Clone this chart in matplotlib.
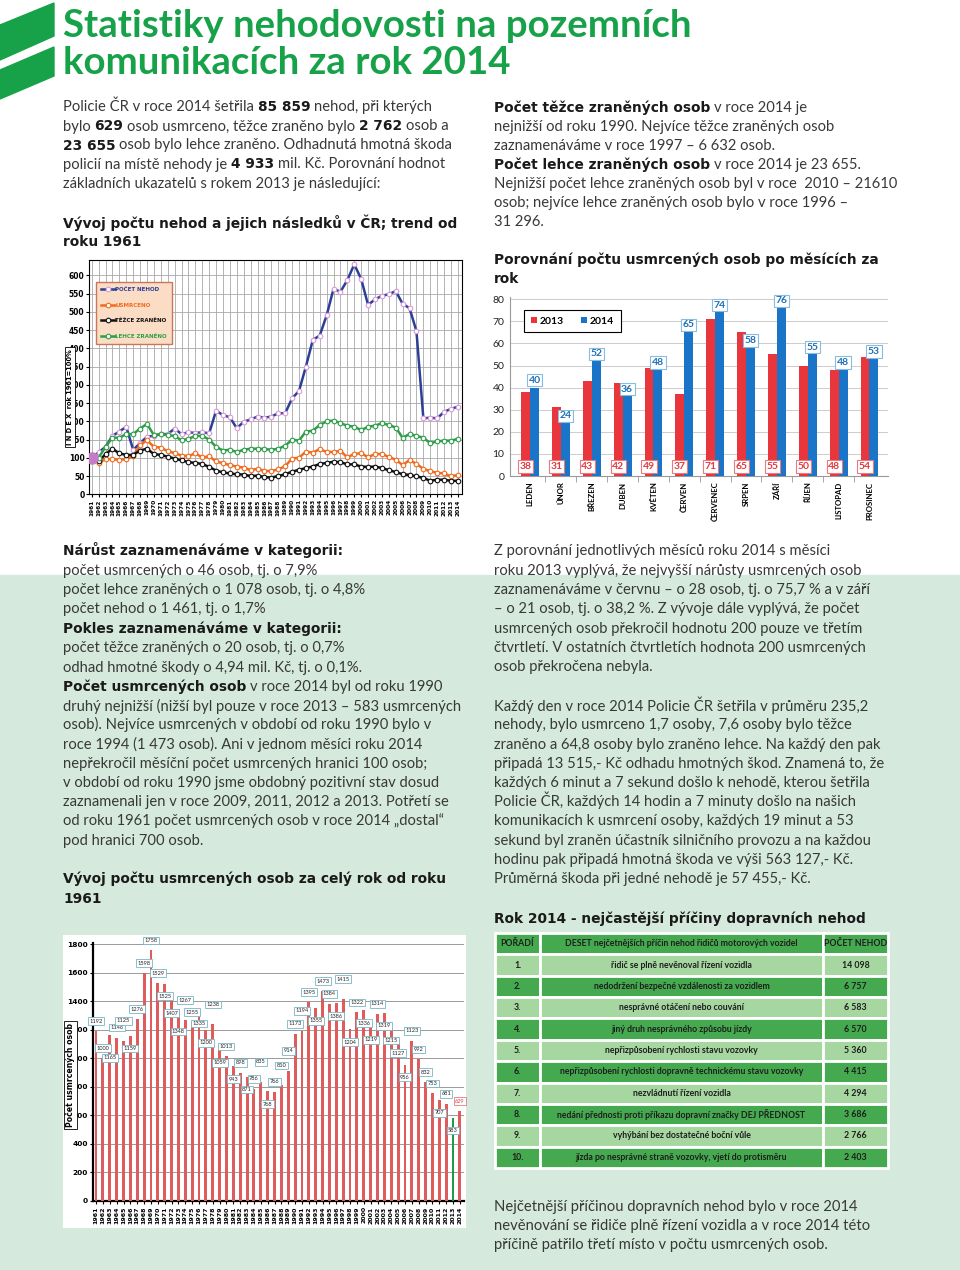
import matplotlib.pyplot as plt
import numpy as np
from matplotlib.patches import Polygon, Rectangle

plt.rcParams['font.family'] = ['Lato', 'DejaVu Sans']

# ---------------- data ----------------
years = list(range(1961, 2015))

idx_nehod = [100, 115, 130, 160, 172, 185, 122, 140, 158, 160, 165, 165, 180, 165,
             170, 168, 170, 167, 229, 217, 211, 181, 199, 205, 213, 210, 213, 222,
             222, 263, 283, 350, 423, 435, 490, 563, 555, 587, 630, 590, 519, 534,
             544, 548, 557, 522, 510, 447, 208, 210, 208, 226, 234, 240]
idx_usmrceno = [100, 85, 97, 96, 95, 96, 105, 135, 148, 130, 128, 118, 113, 106,
                105, 112, 101, 104, 90, 85, 80, 76, 73, 66, 70, 64, 64, 68, 77, 98,
                100, 117, 114, 124, 116, 116, 119, 101, 111, 112, 102, 110, 111, 102,
                95, 80, 94, 83, 70, 63, 59, 57, 49, 53]
idx_tezce = [100, 90, 110, 125, 112, 108, 108, 120, 125, 110, 108, 103, 98, 93, 88,
             86, 83, 75, 65, 60, 57, 55, 54, 50, 51, 47, 46, 50, 55, 62, 67, 72, 76,
             83, 86, 89, 88, 82, 82, 76, 75, 76, 72, 66, 61, 55, 53, 49, 45, 37, 40,
             40, 37, 37]
idx_lehce = [100, 100, 130, 155, 155, 165, 165, 180, 193, 162, 165, 162, 160, 148,
             152, 160, 160, 150, 130, 120, 122, 116, 122, 125, 125, 124, 122, 125,
             133, 150, 147, 172, 174, 190, 200, 202, 195, 188, 185, 176, 185, 188,
             195, 190, 183, 155, 165, 160, 155, 140, 145, 147, 147, 152]

months = ['LEDEN', 'ÚNOR', 'BŘEZEN', 'DUBEN', 'KVĚTEN', 'ČERVEN', 'ČERVENEC',
          'SRPEN', 'ZÁŘÍ', 'ŘÍJEN', 'LISTOPAD', 'PROSINEC']
umrti_2013 = [38, 31, 43, 42, 49, 37, 71, 65, 55, 50, 48, 54]
umrti_2014 = [40, 24, 52, 36, 48, 65, 74, 58, 76, 55, 48, 53]

usmrceni = [1192, 1000, 1165, 1146, 1125, 1159, 1276, 1598, 1758, 1529, 1525, 1407,
            1348, 1267, 1255, 1335, 1200, 1238, 1059, 1013, 943, 898, 871, 786, 835,
            768, 766, 810, 914, 1173, 1194, 1395, 1355, 1473, 1384, 1386, 1415, 1204,
            1322, 1336, 1219, 1314, 1319, 1215, 1127, 956, 1123, 992, 832, 753, 707,
            681, 583, 629]

poradi = ['1.', '2.', '3.', '4.', '5.', '6.', '7.', '8.', '9.', '10.']
priciny = ['řidič se plně nevěnoval řízení vozidla',
           'nedodržení bezpečné vzdálenosti za vozidlem',
           'nesprávné otáčení nebo couvání',
           'jiný druh nesprávného způsobu jízdy',
           'nepřizpůsobení rychlosti stavu vozovky',
           'nepřizpůsobení rychlosti dopravně technickému stavu vozovky',
           'nezvládnutí řízení vozidla',
           'nedání přednosti proti příkazu dopravní značky DEJ PŘEDNOST',
           'vyhýbání bez dostatečné boční vůle',
           'jízda po nesprávné straně vozovky, vjetí do protisměru']
pocet_nehod = ['14 098', '6 757', '6 583', '6 570', '5 360', '4 415', '4 294',
               '3 686', '2 766', '2 403']

# ---------------- page ----------------
W, H = 960, 1270
GREEN = '#17a24a'
fig = plt.figure(figsize=(W / 100, H / 100), dpi=100)
page = fig.add_axes([0, 0, 1, 1])
page.set_xlim(0, W)
page.set_ylim(H, 0)
page.axis('off')
renderer = fig.canvas.get_renderer()


def px_axes(x0, y0, x1, y1):
    return fig.add_axes([x0 / W, 1 - y1 / H, (x1 - x0) / W, (y1 - y0) / H])


page.add_patch(Rectangle((0, 575), W, H - 575, color='#d5eadc', zorder=0))
page.add_patch(Polygon([(0, 25), (54, 3), (54, 36), (0, 60)], color=GREEN))
page.add_patch(Polygon([(0, 70), (54, 47), (54, 76), (0, 99)], color=GREEN))

page.text(63, 37, 'Statistiky nehodovosti na pozemních', fontsize=27.6,
          fontweight='bold', color=GREEN)
page.text(63, 74, 'komunikacích za rok 2014', fontsize=27.6,
          fontweight='bold', color=GREEN)

REG = dict(family=['Lato', 'DejaVu Sans'], fontsize=10.6, color='#383838')
BLD = dict(family=['DejaVu Sans'], fontsize=9.9, fontweight='bold', color='#1a1a1a')


def text_w(s, props):
    t = page.text(0, 0, s, **props)
    w = t.get_window_extent(renderer).width
    t.remove()
    return w


SP = {0: text_w('x x', REG) - text_w('xx', REG),
      1: text_w('x x', BLD) - text_w('xx', BLD)}


def line(x, y, runs):
    if isinstance(runs, str):
        runs = [(runs, 0)]
    for txt, b in runs:
        props = BLD if b else REG
        lead = len(txt) - len(txt.lstrip(' '))
        trail = len(txt) - len(txt.rstrip(' '))
        x += lead * SP[b]
        t = page.text(x, y + 4.5, txt.strip(' '), va='baseline', **props)
        x = t.get_window_extent(renderer).x1 + trail * SP[b]


def block(x, ys, rows):
    for y, r in zip(ys, rows):
        line(x, y, r)


block(63, [106.7, 126, 145, 164, 183.3], [
    [('Policie ČR v roce 2014 šetřila ', 0), ('85 859', 1), (' nehod, při kterých', 0)],
    [('bylo ', 0), ('629', 1), (' osob usmrceno, těžce zraněno bylo ', 0), ('2 762', 1), (' osob a', 0)],
    [('23 655', 1), (' osob bylo lehce zraněno. Odhadnutá hmotná škoda', 0)],
    [('policií na místě nehody je ', 0), ('4 933', 1), (' mil. Kč. Porovnání hodnot', 0)],
    'základních ukazatelů s rokem 2013 je následující:'])
block(63, [223.3, 241.7], [[('Vývoj počtu nehod a jejich následků v ČR; trend od', 1)],
                           [('roku 1961', 1)]])

block(494, [107.3, 126, 145, 164, 183.3, 202.7, 221], [
    [('Počet těžce zraněných osob', 1), (' v roce 2014 je', 0)],
    'nejnižší od roku 1990. Nejvíce těžce zraněných osob',
    'zaznamenáváme v roce 1997 – 6 632 osob.',
    [('Počet lehce zraněných osob', 1), (' v roce 2014 je 23 655.', 0)],
    'Nejnižší počet lehce zraněných osob byl v roce  2010 – 21610',
    'osob; nejvíce lehce zraněných osob bylo v roce 1996 –',
    '31 296.'])
block(494, [259.3, 278.3], [[('Porovnání počtu usmrcených osob po měsících za', 1)],
                            [('rok', 1)]])

block(63, [550, 570, 589.3, 608.3, 628.3, 647.7, 667.7, 686.7, 706, 725, 744.3,
           763.3, 782.7, 801.7, 821, 840], [
    [('Nárůst zaznamenáváme v kategorii:', 1)],
    'počet usmrcených o 46 osob, tj. o 7,9%',
    'počet lehce zraněných o 1 078 osob, tj. o 4,8%',
    'počet nehod o 1 461, tj. o 1,7%',
    [('Pokles zaznamenáváme v kategorii:', 1)],
    'počet těžce zraněných o 20 osob, tj. o 0,7%',
    'odhad hmotné škody o 4,94 mil. Kč, tj. o 0,1%.',
    [('Počet usmrcených osob', 1), (' v roce 2014 byl od roku 1990', 0)],
    'druhý nejnižší (nižší byl pouze v roce 2013 – 583 usmrcených',
    'osob). Nejvíce usmrcených v období od roku 1990 bylo v',
    'roce 1994 (1 473 osob). Ani v jednom měsíci roku 2014',
    'nepřekročil měsíční počet usmrcených hranici 100 osob;',
    'v období od roku 1990 jsme obdobný pozitivní stav dosud',
    'zaznamenali jen v roce 2009, 2011, 2012 a 2013. Potřetí se',
    'od roku 1961 počet usmrcených osob v roce 2014 „dostal“',
    'pod hranici 700 osob.'])
block(63, [878.3, 898.3], [[('Vývoj počtu usmrcených osob za celý rok od roku', 1)],
                           [('1961', 1)]])

block(494, [550, 570, 589.3, 608.3, 628.3, 647.7, 666.7], [
    'Z porovnání jednotlivých měsíců roku 2014 s měsíci',
    'roku 2013 vyplývá, že nejvyšší nárůsty usmrcených osob',
    'zaznamenáváme v červnu – o 28 osob, tj. o 75,7 % a v září',
    '– o 21 osob, tj. o 38,2 %. Z vývoje dále vyplývá, že počet',
    'usmrcených osob překročil hodnotu 200 pouze ve třetím',
    'čtvrtletí. V ostatních čtvrtletích hodnota 200 usmrcených',
    'osob překročena nebyla.'])
block(494, [706, 725, 744.3, 763.3, 782.7, 801.7, 821, 840, 859.3, 878.3], [
    'Každý den v roce 2014 Policie ČR šetřila v průměru 235,2',
    'nehody, bylo usmrceno 1,7 osoby, 7,6 osoby bylo těžce',
    'zraněno a 64,8 osoby bylo zraněno lehce. Na každý den pak',
    'připadá 13 515,- Kč odhadu hmotných škod. Znamená to, že',
    'každých 6 minut a 7 sekund došlo k nehodě, kterou šetřila',
    'Policie ČR, každých 14 hodin a 7 minuty došlo na našich',
    'komunikacích k usmrcení osoby, každých 19 minut a 53',
    'sekund byl zraněn účastník silničního provozu a na každou',
    'hodinu pak připadá hmotná škoda ve výši 563 127,- Kč.',
    'Průměrná škoda při jedné nehodě je 57 455,- Kč.'])
block(494, [918.3], [[('Rok 2014 - nejčastější příčiny dopravních nehod', 1)]])
block(494, [1206.7, 1225.7, 1245], [
    'Nejčetnější příčinou dopravních nehod bylo v roce 2014',
    'nevěnování se řidiče plně řízení vozidla a v roce 2014 této',
    'příčině patřilo třetí místo v počtu usmrcených osob.'])

SMALLB = dict(family='DejaVu Sans', fontweight='bold')

# ---------------- index line chart ----------------
ax1 = px_axes(89.3, 260, 461.7, 494.3)
series = [(idx_nehod, 'POČET NEHOD', '#2b3f98', '#d99ad9'),
          (idx_usmrceno, 'USMRCENO', '#f26b1d', '#f26b1d'),
          (idx_tezce, 'TĚŽCE ZRANĚNO', '#111111', '#111111'),
          (idx_lehce, 'LEHCE ZRANĚNO', '#2e9e48', '#2e9e48')]
for vals, lbl, c, mc in series:
    ax1.plot(years, vals, color=c, lw=1.8, marker='o', ms=3.3, mfc='white',
             mec=mc, mew=0.8, label=lbl, zorder=3)
ax1.plot(years[0], idx_nehod[0], 'o', ms=8, color='#c47cc4', zorder=4)
ax1.set_xlim(1960.65, 2014.55)
ax1.set_ylim(0, 642)
ax1.set_xticks(years)
ax1.set_xticklabels([str(y) for y in years], rotation=90, fontsize=4.2, **SMALLB)
ax1.set_yticks(range(0, 601, 50))
ax1.set_yticklabels([str(v) for v in range(0, 601, 50)], fontsize=5.5, **SMALLB)
ax1.tick_params(length=2, pad=1.5)
ax1.grid(color='#a8a8a8', lw=0.6)
ax1.set_axisbelow(True)
for s in ax1.spines.values():
    s.set_linewidth(0.8)
leg = ax1.legend(loc='upper left', bbox_to_anchor=(0.01, 0.92),
                 prop=dict(family='DejaVu Sans', weight='bold', size=4.0),
                 labelcolor=[s[2] for s in series], facecolor='#fbdcc4',
                 edgecolor='#c8785a', framealpha=1, fancybox=False,
                 handlelength=2.4, borderpad=1.0, labelspacing=1.9, handletextpad=0.1)
ax1.text(-0.052, 0.415, 'I N D E X  rok 1961=100%', rotation=90, ha='center',
         va='center', fontsize=4.8, transform=ax1.transAxes, clip_on=False,
         zorder=10, bbox=dict(fc='white', ec='black', lw=0.6, pad=1.5), **SMALLB)

# ---------------- monthly bar chart ----------------
ax2 = px_axes(510, 297, 888, 476)
x = np.arange(len(months))
b13 = ax2.bar(x - 0.145, umrti_2013, 0.29, color='#e8363c', label='2013', zorder=3)
b14 = ax2.bar(x + 0.145, umrti_2014, 0.29, color='#1a74c8', label='2014', zorder=3)
ax2.set_xlim(-0.65, 11.6)
ax2.set_ylim(0, 81)
ax2.set_yticks(range(0, 81, 10))
ax2.tick_params(axis='y', labelsize=7.5, length=0, pad=4, labelcolor='#222')
ax2.set_xticks(x)
ax2.set_xticklabels(months, rotation=90, fontsize=5.6, fontweight='bold')
ax2.set_xticks(x[:-1] + 0.5, minor=True)
ax2.tick_params(axis='x', which='major', length=0, pad=4)
ax2.tick_params(axis='x', which='minor', length=4, color='#999')
ax2.grid(axis='y', color='#cccccc', lw=0.7)
ax2.set_axisbelow(True)
for k in ['top', 'right']:
    ax2.spines[k].set_visible(False)
for k in ['left', 'bottom']:
    ax2.spines[k].set_color('#999999')
for i in range(len(months)):
    ax2.text(i + 0.145, umrti_2014[i] + 1.3, str(umrti_2014[i]), ha='center',
             va='bottom', fontsize=7.5, fontweight='bold', color='#1f70b5', zorder=5,
             bbox=dict(boxstyle='square,pad=0.15', fc='white', ec='#86bde0', lw=0.8))
    ax2.text(i - 0.145, 4.3, str(umrti_2013[i]), ha='center', va='center',
             fontsize=7.5, fontweight='bold', color='#e03a40', zorder=5,
             bbox=dict(boxstyle='square,pad=0.15', fc='white', ec='#e87a80', lw=0.8))
leg2 = ax2.legend(handles=[b13, b14], loc='upper left', bbox_to_anchor=(0.024, 0.955),
                  ncol=2, fancybox=False, edgecolor='black', framealpha=1,
                  prop=dict(weight='bold', size=7.5), handlelength=0.6,
                  handleheight=0.6, columnspacing=1.6, borderpad=0.6,
                  handletextpad=0.3)
leg2.get_frame().set_linewidth(0.8)

# ---------------- fatalities bar chart ----------------
page.add_patch(Rectangle((63, 935), 403, 293, fc='white', ec='none', zorder=1))
ax3 = px_axes(93.3, 943, 464, 1200.7)
bar_cols = ['#1f9a4a' if y == 2013 else '#e05b5b' for y in years]
ax3.bar(years, usmrceni, 0.42, color=bar_cols, zorder=3)
ax3.set_xlim(1960.6, 2014.6)
ax3.set_ylim(0, 1810)
ax3.set_xticks(years)
ax3.set_xticklabels([str(y) for y in years], rotation=90, fontsize=4.5, **SMALLB)
ax3.set_yticks(range(0, 1801, 200))
ax3.set_yticklabels([str(v) for v in range(0, 1801, 200)], fontsize=5.3, **SMALLB)
ax3.tick_params(length=2, pad=2)
ax3.grid(axis='y', color='#9a9a9a', lw=0.7)
ax3.set_axisbelow(True)
for k in ['top', 'right']:
    ax3.spines[k].set_visible(False)
for k in ['left', 'bottom']:
    ax3.spines[k].set_linewidth(1.6)

# stagger the value boxes so neighbouring ones do not collide
placed = []
for i, (y, v) in enumerate(zip(years, usmrceni)):
    best, best_gap = None, -1
    for off in (70, -90, 140, -160):
        gap = min([abs(v + off - p) for p in placed[-2:]] or [999])
        if gap >= 68:
            best = off
            break
        if gap > best_gap:
            best, best_gap = off, gap
    placed.append(v + best)
    tc, ec = ('#e03a40', '#e87a80') if y == 2014 else ('#222222', '#79b6c6')
    ax3.text(y, v + best, str(v), ha='center', va='center', fontsize=4.1, color=tc,
             zorder=5, bbox=dict(boxstyle='square,pad=0.25', fc='white', ec=ec, lw=0.6))
ax3.text(-0.0615, 0.488, 'Počet usmrcených osob', rotation=90, ha='center',
         va='center', fontsize=5.6, transform=ax3.transAxes, clip_on=False,
         zorder=10, bbox=dict(fc='white', ec='black', lw=0.6, pad=1.5), **SMALLB)

# ---------------- table ----------------
ax4 = px_axes(495, 933, 888, 1168)
ax4.axis('off')
cell_text = [['POŘADÍ', 'DESET nejčetnějších příčin nehod řidičů motorových vozidel',
              'POČET NEHOD']] + [[r, c, n] for r, c, n in zip(poradi, priciny, pocet_nehod)]
tbl = ax4.table(cellText=cell_text, colWidths=[45 / 393, 283 / 393, 65 / 393],
                bbox=[0, 0, 1, 1], cellLoc='center')
tbl.auto_set_font_size(False)
for (r, c), cell in tbl.get_celld().items():
    cell.set_edgecolor('white')
    cell.set_linewidth(2)
    cell.set_facecolor('#45aa4f' if r % 2 == 0 else '#a7d7a1')
    cell.get_text().set(fontsize=6.3, fontweight='bold', color='#1e1e1e')

fig.savefig('out.png', dpi=100)
